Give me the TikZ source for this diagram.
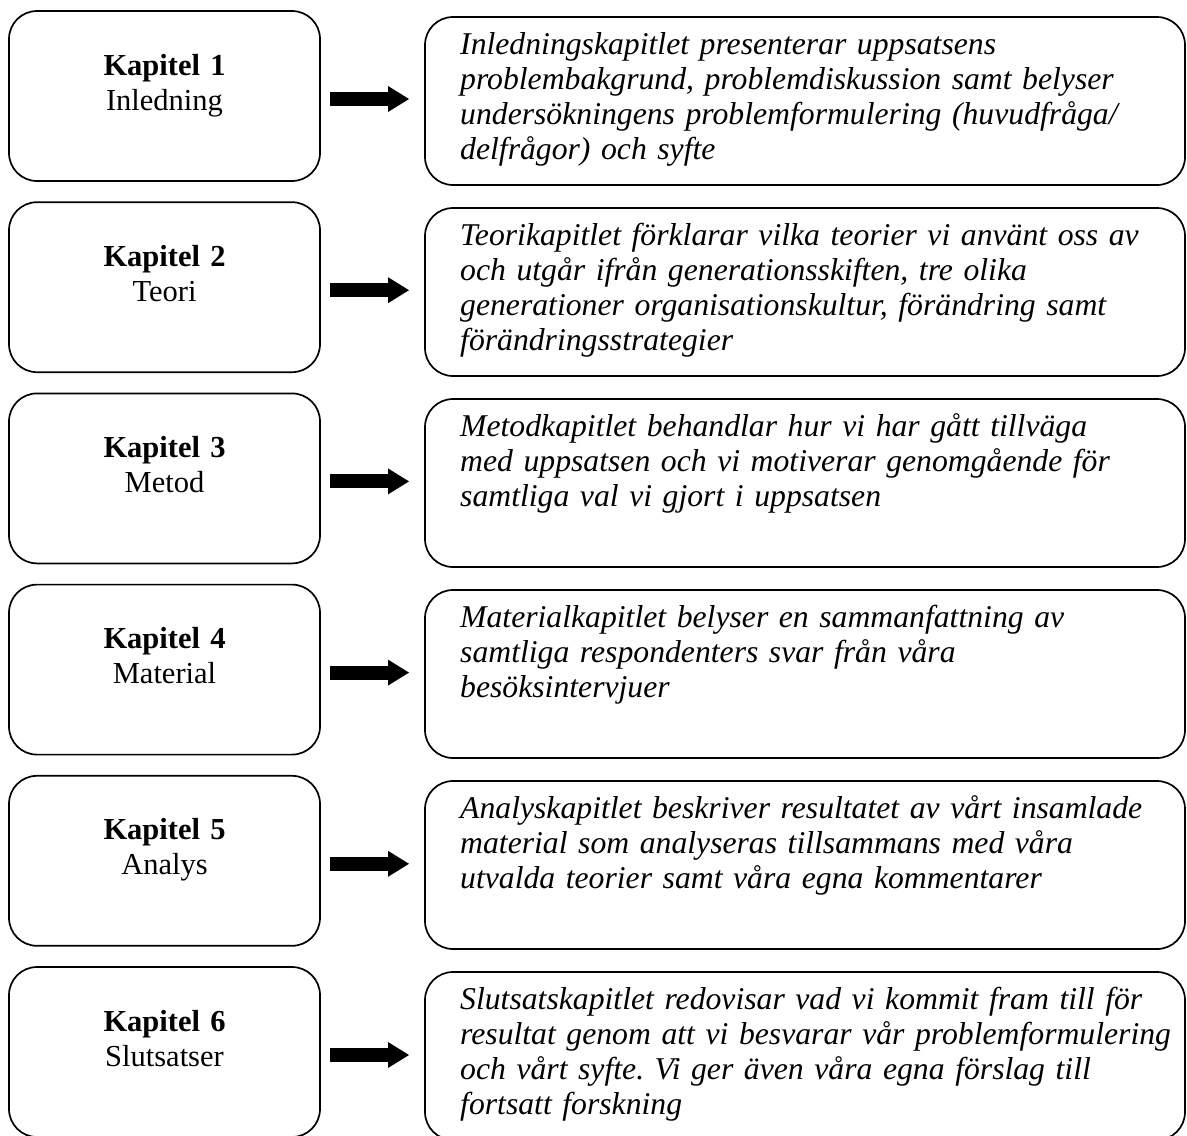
\documentclass[tikz,border=0pt]{standalone}
\usepackage{fontspec}
\setmainfont{Liberation Serif}
\usetikzlibrary{arrows.meta}
\frenchspacing
\begin{document}
\begin{tikzpicture}[x=1pt,y=-1pt,
  leftbox/.style={draw, line width=1.7pt, rounded corners=28pt, minimum width=311pt, minimum height=170pt, anchor=north west, inner sep=0pt, outer sep=0pt},
  rightbox/.style={draw, line width=1.7pt, rounded corners=28pt, minimum width=760pt, minimum height=168pt, anchor=north west, inner sep=0pt, outer sep=0pt},
  chaptxt/.style={anchor=base, text width=300pt, align=center, font=\fontsize{30.5}{35}\selectfont, inner sep=0pt},
  desctxt/.style={anchor=base west, text width=740pt, align=left, font=\fontsize{31.7}{35}\selectfont\itshape, inner sep=0pt},
  bigarrow/.style={line width=14pt, -{Triangle[length=21pt,width=26pt,line width=0pt]}, shorten <=10pt, shorten >=16pt}
]
\useasboundingbox (0,0) rectangle (1187,1136);

% Row 1
\node[leftbox] (L1) at (9,11) {};
\node[rightbox] (R1) at (425,17) {};
\node[chaptxt] (C1) at ([shift={(0,64)}]L1.north) {\textbf{Kapitel 1}\\Inledning};
\node[desctxt] (D1) at ([shift={(35,37)}]R1.north west) {Inledningskapitlet presenterar uppsatsens\\problembakgrund, problemdiskussion samt belyser\\undersökningens problemformulering (huvudfråga/\\delfrågor) och syfte};
\draw[bigarrow] ([yshift=-3pt]L1.east) -- ([yshift=-3pt]L1.east -| R1.west);

% Row 2
\node[leftbox] (L2) at (9,202.2) {};
\node[rightbox] (R2) at (425,208) {};
\node[chaptxt] (C2) at ([shift={(0,64)}]L2.north) {\textbf{Kapitel 2}\\Teori};
\node[desctxt] (D2) at ([shift={(35,37)}]R2.north west) {Teorikapitlet förklarar vilka teorier vi använt oss av\\och utgår ifrån generationsskiften, tre olika\\generationer organisationskultur, förändring samt\\förändringsstrategier};
\draw[bigarrow] ([yshift=-3pt]L2.east) -- ([yshift=-3pt]L2.east -| R2.west);

% Row 3
\node[leftbox] (L3) at (9,393.4) {};
\node[rightbox] (R3) at (425,399) {};
\node[chaptxt] (C3) at ([shift={(0,64)}]L3.north) {\textbf{Kapitel 3}\\Metod};
\node[desctxt] (D3) at ([shift={(35,37)}]R3.north west) {Metodkapitlet behandlar hur vi har gått tillväga\\med uppsatsen och vi motiverar genomgående för\\samtliga val vi gjort i uppsatsen};
\draw[bigarrow] ([yshift=-3pt]L3.east) -- ([yshift=-3pt]L3.east -| R3.west);

% Row 4
\node[leftbox] (L4) at (9,584.6) {};
\node[rightbox] (R4) at (425,590) {};
\node[chaptxt] (C4) at ([shift={(0,64)}]L4.north) {\textbf{Kapitel 4}\\Material};
\node[desctxt] (D4) at ([shift={(35,37)}]R4.north west) {Materialkapitlet belyser en sammanfattning av\\samtliga respondenters svar från våra\\besöksintervjuer};
\draw[bigarrow] ([yshift=-3pt]L4.east) -- ([yshift=-3pt]L4.east -| R4.west);

% Row 5
\node[leftbox] (L5) at (9,775.8) {};
\node[rightbox] (R5) at (425,781) {};
\node[chaptxt] (C5) at ([shift={(0,64)}]L5.north) {\textbf{Kapitel 5}\\Analys};
\node[desctxt] (D5) at ([shift={(35,37)}]R5.north west) {Analyskapitlet beskriver resultatet av vårt insamlade\\material som analyseras tillsammans med våra\\utvalda teorier samt våra egna kommentarer};
\draw[bigarrow] ([yshift=-3pt]L5.east) -- ([yshift=-3pt]L5.east -| R5.west);

% Row 6
\node[leftbox] (L6) at (9,967) {};
\node[rightbox] (R6) at (425,972) {};
\node[chaptxt] (C6) at ([shift={(0,64)}]L6.north) {\textbf{Kapitel 6}\\Slutsatser};
\node[desctxt] (D6) at ([shift={(35,37)}]R6.north west) {Slutsatskapitlet redovisar vad vi kommit fram till för\\resultat genom att vi besvarar vår problemformulering\\och vårt syfte. Vi ger även våra egna förslag till\\fortsatt forskning};
\draw[bigarrow] ([yshift=-3pt]L6.east) -- ([yshift=-3pt]L6.east -| R6.west);
\end{tikzpicture}
\end{document}
